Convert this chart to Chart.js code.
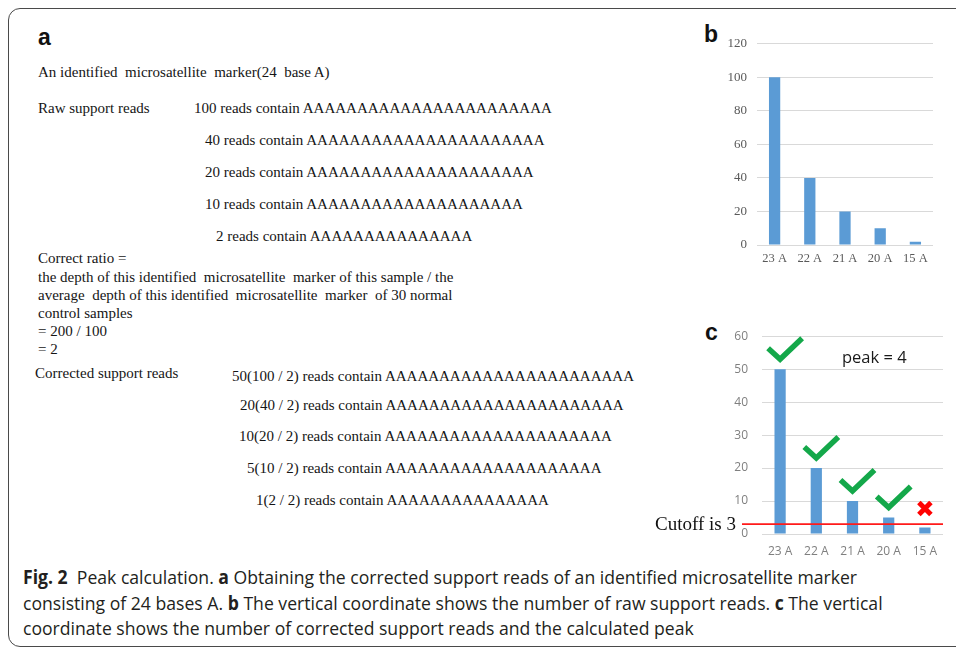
<!DOCTYPE html>
<html>
<head>
<meta charset="utf-8">
<script src="https://cdn.jsdelivr.net/npm/chart.js@4.4.1/dist/chart.umd.min.js"></script>
<style>
  html, body { margin:0; padding:0; background:#fff; }
  body { width:956px; height:647px; position:relative; overflow:hidden; }
  .frame { position:absolute; left:8px; top:8px; width:1000px; height:639px; box-sizing:border-box;
           border:1.5px solid #4a4a4a; border-radius:12px; }
  .t { position:absolute; font-family:'Liberation Serif','Times New Roman',serif; font-size:15px;
       line-height:18px; color:#151515; white-space:pre; }
  .lab { position:absolute; font-family:'Liberation Sans',Arial,sans-serif; font-weight:bold;
         font-size:23px; line-height:24px; color:#111; }
  .cap { position:absolute; left:23px; font-family:'Open Sans','Noto Sans',sans-serif; font-size:19px;
         line-height:24px; color:#231f20; white-space:nowrap; transform-origin:0 50%; }
  .cap b { font-weight:700; }
  canvas { position:absolute; }
  #peak { position:absolute; left:842px; top:346px; font-family:'Open Sans','Noto Sans',sans-serif;
          font-size:16.5px; line-height:22px; color:#1a1a1a; white-space:pre; }
</style>
</head>
<body>
<div class="frame"></div>
<div class="lab" style="left:38px;top:25px;">a</div>
<div class="lab" style="left:704px;top:22px;">b</div>
<div class="lab" style="left:705px;top:320px;">c</div>
<div id="textA"></div>
<canvas id="chartB" width="240" height="248" style="left:700px;top:26px;width:240px;height:248px;"></canvas>
<canvas id="chartC" width="305" height="247" style="left:645px;top:315px;width:305px;height:247px;"></canvas>
<div id="peak"></div>
<div class="cap" id="cap1" style="top:565px;"><b>Fig. 2</b>&nbsp;&nbsp;Peak calculation. <b>a</b> Obtaining the corrected support reads of an identified microsatellite marker</div>
<div class="cap" id="cap2" style="top:591px;">consisting of 24 bases A. <b>b</b> The vertical coordinate shows the number of raw support reads. <b>c</b> The vertical</div>
<div class="cap" id="cap3" style="top:616px;">coordinate shows the number of corrected support reads and the calculated peak</div>

<script>
// ---------- data ----------
const categories = ['23 A', '22 A', '21 A', '20 A', '15 A'];
const repeatLengths = [23, 22, 21, 20, 15];
const rawReads = [100, 40, 20, 10, 2];
const correctedLabels = ['50(100 / 2)', '20(40 / 2)', '10(20 / 2)', '5(10 / 2)', '1(2 / 2)'];
const correctedReads = [50, 20, 10, 5, 2];
const cutoff = 3;
const ticksB = [0, 20, 40, 60, 80, 100, 120];
const ticksC = [0, 10, 20, 30, 40, 50, 60];

// ---------- layout for panel a text (positions only) ----------
const rawX = [194, 205, 205, 205, 216];
const rawY = [108, 140, 172, 204, 236];
const corrX = [232, 240, 239, 247, 256];
const corrY = [376, 405, 436, 468, 500];

const textA = document.getElementById('textA');
function addText(str, x, yc) {
  const d = document.createElement('div');
  d.className = 't';
  d.style.left = x + 'px';
  d.style.top = (yc - 9) + 'px';
  d.textContent = str;
  textA.appendChild(d);
}
addText('An identified  microsatellite  marker(24  base A)', 38, 72);
addText('Raw support reads', 38, 108);
rawReads.forEach((v, i) => addText(v + ' reads contain ' + 'A'.repeat(repeatLengths[i]), rawX[i], rawY[i]));
addText('Correct ratio =', 38, 258);
addText('the depth of this identified  microsatellite  marker of this sample / the', 38, 277);
addText('average  depth of this identified  microsatellite  marker  of 30 normal', 38, 295);
addText('control samples', 38, 313);
addText('= 200 / 100', 38, 331);
addText('= 2', 38, 349);
addText('Corrected support reads', 35, 373);
correctedLabels.forEach((s, i) => addText(s + ' reads contain ' + 'A'.repeat(repeatLengths[i]), corrX[i], corrY[i]));

// ---------- caption scaling ----------
(function(){
  const c1 = document.getElementById('cap1');
  const w = c1.getBoundingClientRect().width;
  const s = 834 / w;
  ['cap1','cap2','cap3'].forEach(id => document.getElementById(id).style.transform = 'scaleX(' + s + ')');
})();

const barBlue = '#5b9bd5';

// ---------- chart b ----------
new Chart(document.getElementById('chartB'), {
  type: 'bar',
  data: { labels: categories, datasets: [{ data: rawReads, backgroundColor: barBlue, barPercentage: 0.32, categoryPercentage: 1 }] },
  options: {
    responsive: false, animation: false, devicePixelRatio: 1,
    layout: { padding: { top: 0, right: 7, left: 0, bottom: 0 } },
    plugins: { legend: { display: false }, tooltip: { enabled: false } },
    scales: {
      x: {
        grid: { display: false, drawTicks: false }, border: { display: false },
        ticks: { color: '#595959', font: { family: 'Liberation Serif', size: 12.5 }, padding: 6, maxRotation: 0 },
        afterFit(s) { s.height = 29; }
      },
      y: {
        min: 0, max: 120,
        afterBuildTicks(s) { s.ticks = ticksB.map(v => ({ value: v })); },
        ticks: { color: '#595959', font: { family: 'Liberation Serif', size: 13 }, padding: 10 },
        grid: { color: '#d9d9d9', drawTicks: false, lineWidth: 1 },
        border: { display: false },
        afterFit(s) { s.width = 57; }
      }
    }
  }
});

// ---------- chart c ----------
const markPlugin = {
  id: 'marks',
  afterDatasetsDraw(chart) {
    const { ctx, chartArea, scales: { x, y } } = chart;
    const yc = y.getPixelForValue(cutoff);
    ctx.save();
    // cutoff line
    ctx.strokeStyle = '#ff1a1a';
    ctx.lineWidth = 1.6;
    ctx.beginPath();
    ctx.moveTo(chartArea.left - 20, yc);
    ctx.lineTo(chartArea.right, yc);
    ctx.stroke();
    // cutoff label
    ctx.fillStyle = '#111';
    ctx.font = '19px "Liberation Serif"';
    ctx.textAlign = 'right';
    ctx.textBaseline = 'middle';
    ctx.fillText('Cutoff is ' + cutoff, chartArea.left - 26, yc + 1);
    // checks / crosses
    correctedReads.forEach((v, i) => {
      const bx = x.getPixelForValue(i);
      const by = y.getPixelForValue(v) - 10;
      if (v >= cutoff) {
        ctx.strokeStyle = '#14a84a';
        ctx.lineWidth = 5.5;
        ctx.lineCap = 'butt';
        ctx.lineJoin = 'miter';
        ctx.beginPath();
        ctx.moveTo(bx - 12, by - 11);
        ctx.lineTo(bx, by);
        ctx.lineTo(bx + 22, by - 21);
        ctx.stroke();
      } else {
        const cx = bx, cy = by - 9, h = 6;
        ctx.strokeStyle = '#ff0000';
        ctx.lineWidth = 5;
        ctx.lineCap = 'butt';
        ctx.beginPath();
        ctx.moveTo(cx - h, cy - h); ctx.lineTo(cx + h, cy + h);
        ctx.moveTo(cx + h, cy - h); ctx.lineTo(cx - h, cy + h);
        ctx.stroke();
      }
    });
    ctx.restore();
  }
};

new Chart(document.getElementById('chartC'), {
  type: 'bar',
  data: { labels: categories, datasets: [{ data: correctedReads, backgroundColor: barBlue, barPercentage: 0.31, categoryPercentage: 1 }] },
  options: {
    responsive: false, animation: false, devicePixelRatio: 1,
    layout: { padding: { top: 0, right: 7, left: 0, bottom: 0 } },
    plugins: { legend: { display: false }, tooltip: { enabled: false } },
    scales: {
      x: {
        grid: { display: false, drawTicks: false }, border: { display: false },
        ticks: { color: '#7f7f7f', font: { family: 'Open Sans', size: 12 }, padding: 10, maxRotation: 0 },
        afterFit(s) { s.height = 28; }
      },
      y: {
        min: 0, max: 60,
        afterBuildTicks(s) { s.ticks = ticksC.map(v => ({ value: v })); },
        ticks: { color: '#7f7f7f', font: { family: 'Open Sans', size: 12 }, padding: 14 },
        grid: { color: '#d9d9d9', drawTicks: false, lineWidth: 1 },
        border: { display: false },
        afterFit(s) { s.width = 117; }
      }
    }
  },
  plugins: [markPlugin]
});

document.getElementById('peak').textContent = 'peak = ' + correctedReads.filter(v => v >= cutoff).length;
</script>
</body>
</html>
